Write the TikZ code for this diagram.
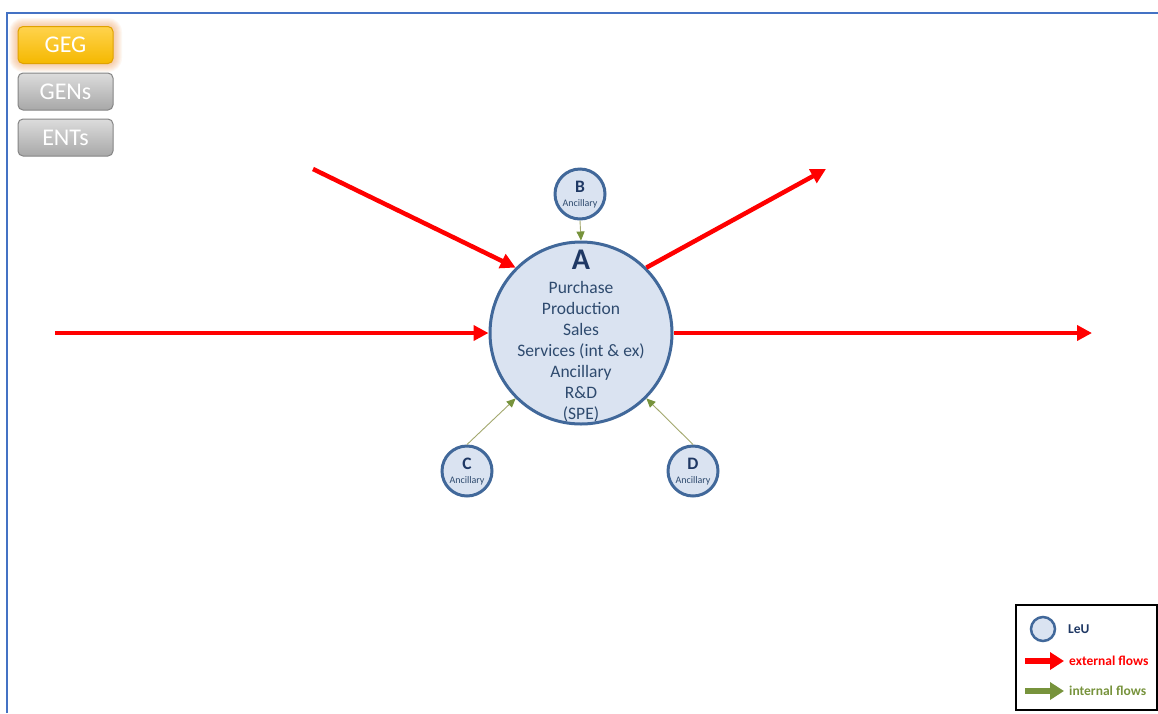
\documentclass[tikz,border=0pt]{standalone}
\usepackage{fontspec}
\setmainfont{Carlito}
\usetikzlibrary{arrows.meta}

\definecolor{frameblue}{HTML}{4472C4}
\definecolor{leufill}{HTML}{DAE3F1}
\definecolor{leuedge}{HTML}{41689A}
\definecolor{navy}{HTML}{1F3864}
\definecolor{bodytxt}{HTML}{2E4A6E}
\definecolor{flowred}{HTML}{FF0000}
\definecolor{flowgreen}{HTML}{77933C}
\definecolor{flowline}{HTML}{A3A86E}
\definecolor{goldtop}{HTML}{FFD34D}
\definecolor{goldbot}{HTML}{F5B800}
\definecolor{goldedge}{HTML}{E0A200}
\definecolor{glow}{HTML}{F4A460}
\definecolor{greytop}{HTML}{DCDCDC}
\definecolor{greybot}{HTML}{A8A8A8}
\definecolor{greyedge}{HTML}{858585}

\tikzset{
  leu/.style={circle, draw=leuedge, fill=leufill, inner sep=0pt},
  bigleu/.style={leu, line width=3pt, minimum size=182pt},
  smallleu/.style={leu, line width=3pt, minimum size=50pt},
  leutitle/.style={text=navy, font=\fontsize{17.5}{17.5}\selectfont\bfseries, inner sep=0pt},
  leusub/.style={text=bodytxt, font=\fontsize{10}{10}\selectfont, inner sep=0pt},
  extflow/.style={draw=flowred, line width=4.5pt, -{Triangle[length=15pt,width=15pt]}, flowred},
  intflow/.style={draw=flowline, line width=0.9pt, -{Triangle[length=9pt,width=8pt,color=flowgreen]}},
  btn/.style={rounded corners=5pt, minimum width=95pt, minimum height=37pt, inner sep=0pt,
    text=white, font=\fontsize{24}{24}\selectfont, line width=1pt},
  btngold/.style={btn, draw=goldedge, top color=goldtop, bottom color=goldbot},
  btngrey/.style={btn, draw=greyedge, top color=greytop, bottom color=greybot},
  keytext/.style={anchor=west, inner sep=0pt, font=\fontsize{13.5}{13.5}\selectfont\bfseries},
}

\begin{document}
\begin{tikzpicture}[x=1pt, y=-1pt]
  \useasboundingbox (0,0) rectangle (1158,713);
  \fill[white] (0,0) rectangle (1158,713);

  % page frame
  \draw[frameblue, line width=2pt] (6.5,713) -- (6.5,12.5) -- (1158,12.5);

  % glow behind the active button
  \foreach \i in {1,...,9} {
    \fill[glow, opacity=0.075, rounded corners={5pt+\i pt}]
      ({18-\i},{27-\i}) rectangle ({113+\i},{63+\i});
  }
  \node[btngold] (geg)  at (65.5,45)    {GEG};
  \node[btngrey] (gens) at (65.5,91.5)  {GENs};
  \node[btngrey] (ents) at (65.5,137.5) {ENTs};

  % legal units
  \node[bigleu]   (A) at (581,333) {};
  \node[smallleu] (B) at (580,194) {};
  \node[smallleu] (C) at (467,471) {};
  \node[smallleu] (D) at (693,471) {};

  \node[text=navy, font=\fontsize{30}{30}\selectfont\bfseries, inner sep=0pt, anchor=base]
    (Atitle) at (581,269) {A};
  \node[text=bodytxt, font=\fontsize{17.5}{21}\selectfont, align=center, inner sep=0pt]
    (Afunc) at (581,352) {Purchase\\Production\\Sales\\Services (int \& ex)\\Ancillary\\R\&D\\(SPE)};

  \foreach \u in {B,C,D} {
    \node[leutitle, anchor=base] (\u title) at ([yshift=1.5pt]\u.center) {\u};
    \node[leusub, anchor=base] (\u sub) at ([yshift=-12pt]\u.center) {Ancillary};
  }

  % external flows
  \coordinate (inW)  at (55,333);
  \coordinate (outE) at (1092,333);
  \coordinate (inNW) at (313,169);
  \coordinate (outNE) at (826,169);
  \draw[extflow] (inW) -- (A.west);
  \draw[extflow] (A.east) -- (outE);
  \draw[extflow] (inNW) -- (A.135);
  \draw[extflow] (A.45) -- (outNE);

  % internal flows
  \draw[intflow] (B.south) -- (A.north);
  \draw[intflow] (C.north) -- (A.225);
  \draw[intflow] (D.north) -- (A.315);

  % legend
  \draw[black, line width=1.3pt] (1016,605) rectangle (1157,710);
  \node[leu, line width=2.5pt, minimum size=24pt] (keyleu) at (1043,629) {};
  \node[keytext, text=navy] (keyleutext) at (1068,629) {LeU};
  \coordinate (kr1) at (1025,661);
  \coordinate (kr2) at (1064,661);
  \draw[flowred, line width=5.5pt, -{Triangle[length=14pt,width=17pt]}] (kr1) -- (kr2);
  \node[keytext, text=flowred] (keyext) at (1069,661) {external flows};
  \coordinate (kg1) at (1025,691);
  \coordinate (kg2) at (1064,691);
  \draw[flowgreen, line width=5.5pt, -{Triangle[length=14pt,width=17pt]}] (kg1) -- (kg2);
  \node[keytext, text=flowgreen] (keyint) at (1069,691) {internal flows};
\end{tikzpicture}
\end{document}
